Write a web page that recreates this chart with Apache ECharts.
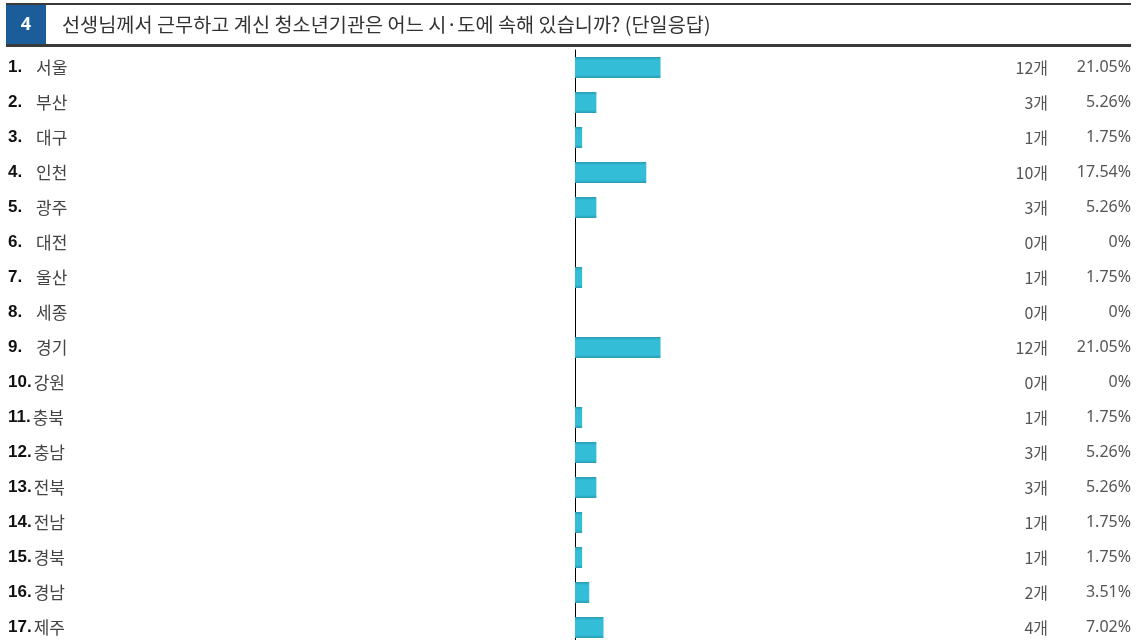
<!DOCTYPE html>
<html><head><meta charset="utf-8">
<script src="https://cdn.jsdelivr.net/npm/echarts@6/dist/echarts.min.js"></script>
<style>html,body{margin:0;padding:0;background:#fff;overflow:hidden;height:640px}#c{width:1137px;height:660px}</style>
</head><body><div id="c"></div>
<script>
const questionNo = '4';
const title = '선생님께서 근무하고 계신 청소년기관은 어느 시·도에 속해 있습니까? (단일응답)';
const categories = ['서울','부산','대구','인천','광주','대전','울산','세종','경기','강원','충북','충남','전북','전남','경북','경남','제주'];
const counts = [12,3,1,10,3,0,1,0,12,0,1,3,3,1,1,2,4];
const percents = ['21.05%','5.26%','1.75%','17.54%','5.26%','0%','1.75%','0%','21.05%','0%','1.75%','5.26%','5.26%','1.75%','1.75%','3.51%','7.02%'];

const font = '"Noto Sans CJK KR","Noto Sans",sans-serif';
const numFont = '"Liberation Sans",Arial,sans-serif';
const chart = echarts.init(document.getElementById('c'));
const barColor = new echarts.graphic.LinearGradient(0,0,0,1,[
  {offset:0,color:'#2a9cb4'},{offset:0.15,color:'#34bdd6'},{offset:0.85,color:'#34bdd6'},{offset:1,color:'#2a9cb4'}]);
chart.setOption({
  animation:false,
  grid:{left:575,right:6,top:50,height:595,containLabel:false},
  xAxis:{type:'value',min:0,max:78,show:false},
  yAxis:[
    {type:'category',inverse:true,data:categories,position:'left',
     axisLine:{show:true,lineStyle:{color:'#000',width:1}},axisTick:{show:false},
     axisLabel:{align:'left',margin:567,fontFamily:font,fontSize:17,color:'#444',
       formatter:(v,i)=>{const n=(i+1)+'.';return (i<9?'{n|'+n+'}':'{m|'+n+'}')+'{t|'+v+'}';},
       rich:{n:{fontFamily:numFont,fontWeight:'bold',fontSize:17,color:'#111',width:28},
             m:{fontFamily:numFont,fontWeight:'bold',fontSize:17,color:'#111',padding:[0,2,0,0]},
             t:{fontFamily:font,fontSize:17,color:'#444'}}}},
    {type:'category',inverse:true,data:counts.map(c=>c+'개'),position:'right',
     axisLine:{show:false},axisTick:{show:false},
     axisLabel:{inside:true,margin:83,align:'right',fontFamily:font,fontSize:16,color:'#555'}},
    {type:'category',inverse:true,data:percents,position:'right',
     axisLine:{show:false},axisTick:{show:false},
     axisLabel:{inside:true,margin:0,align:'right',fontFamily:'"Noto Sans",sans-serif',fontSize:16,color:'#555'}}
  ],
  series:[{type:'bar',data:counts,barWidth:21,itemStyle:{color:barColor},yAxisIndex:0}],
  graphic:[
    {type:'rect',shape:{x:6,y:3,width:1125,height:2},style:{fill:'#3a3a3a'}},
    {type:'rect',shape:{x:6,y:44,width:1125,height:3},style:{fill:'#3a3a3a'}},
    {type:'rect',shape:{x:6,y:5,width:40,height:39},style:{fill:'#1b5d9b'}},
    {type:'text',x:26,y:25,style:{text:questionNo,fill:'#fff',font:'bold 18px "Noto Sans",sans-serif',align:'center',verticalAlign:'middle'}},
    {type:'text',x:62,y:25,style:{text:title,fill:'#333',font:'19.7px '+font,verticalAlign:'middle'}}
  ]
});
</script></body></html>
